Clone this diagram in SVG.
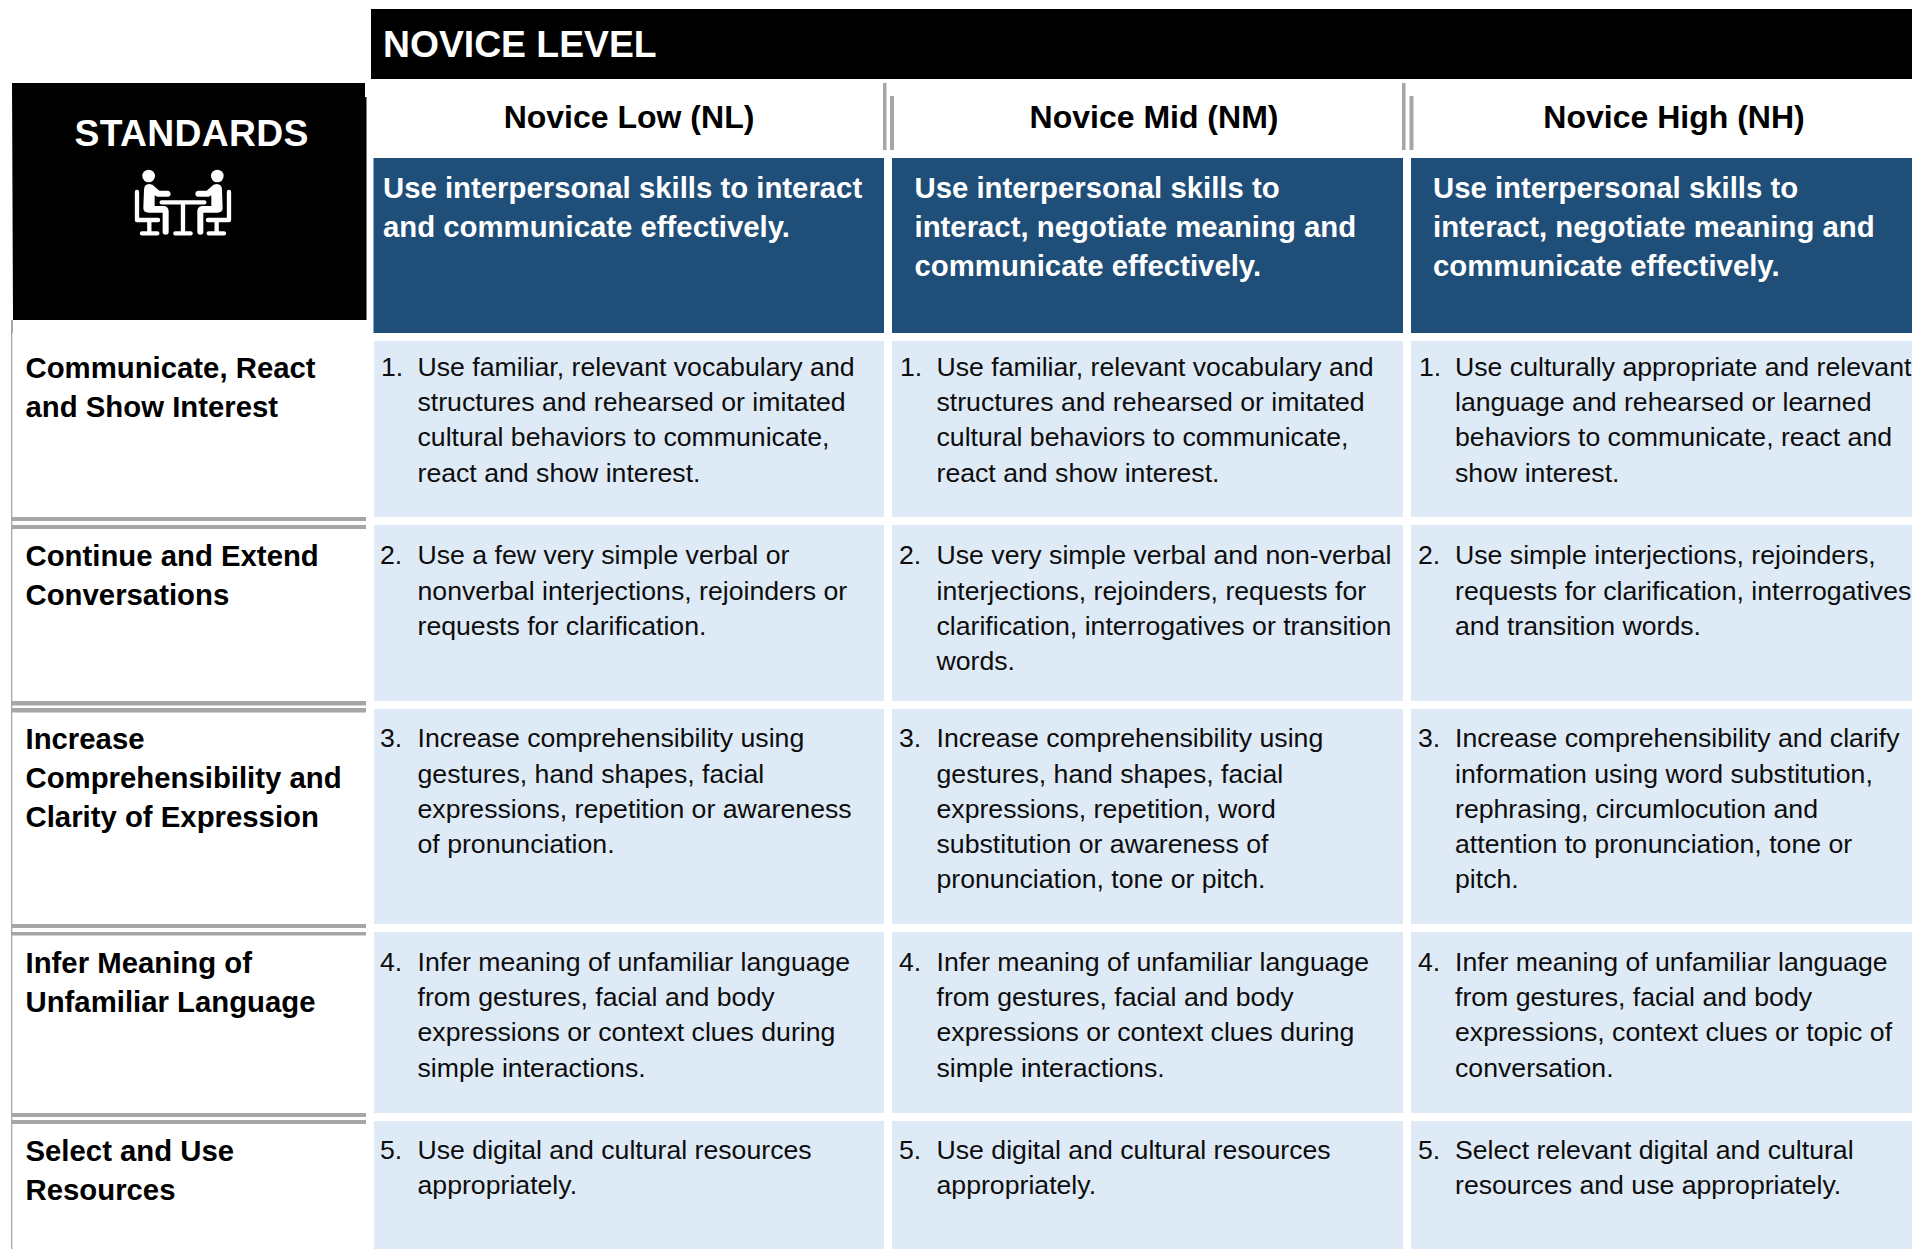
<svg xmlns="http://www.w3.org/2000/svg" xmlns:xlink="http://www.w3.org/1999/xlink" width="1912" height="1249" viewBox="0 0 1912 1249">
<style>
text{font-family:"Liberation Sans",Arial,sans-serif}
.blk{fill:#000}
.blue{fill:#1f4e79}
.cell{fill:#deeaf6}
.rule{fill:#a6a6a6}
.h1{font-size:37.300px;font-weight:700;fill:#fff}
.h2{font-size:32px;font-weight:700;fill:#000;text-anchor:middle}
.h3{font-size:29.330px;font-weight:700;fill:#fff}
.lab{font-size:29.330px;font-weight:700;fill:#000}
.b{font-size:26.660px;fill:#0d0d0d}
.ico{fill:#fff}
.icl{fill:none;stroke:#fff;stroke-width:13;stroke-linecap:round;stroke-linejoin:round}
</style>
<defs>
<g id="person">
<circle class="ico" cx="146" cy="108" r="19"/>
<path class="icl" d="M111 156V240H174M148 242V278M126 280H172"/>
<path class="ico" d="M132 150Q132 132 148 132Q158 132 166 142L178 152H204Q212 154 212 161Q212 169 204 170H172L164 166V198H192Q206 200 206 214V276Q206 284 197 284Q188 284 188 276V218H146Q130 218 130 204Z"/>
</g>
</defs>
<rect width="1912" height="1249" fill="#fff"/>
<g id="rules">
<rect class="rule" x="11" y="320" width="1.300" height="929"/>
<rect class="rule" x="11" y="320" width="2" height="13"/>
<rect class="rule" x="12" y="517" width="354" height="4"/>
<rect class="rule" x="12" y="525" width="354" height="4"/>
<rect class="rule" x="12" y="701" width="354" height="4.500"/>
<rect class="rule" x="12" y="708" width="354" height="4.500"/>
<rect class="rule" x="12" y="924" width="354" height="4"/>
<rect class="rule" x="12" y="932" width="354" height="3.500"/>
<rect class="rule" x="12" y="1113" width="354" height="4"/>
<rect class="rule" x="12" y="1120" width="354" height="4"/>
<rect class="rule" x="883" y="83" width="3.500" height="67"/>
<rect class="rule" x="890" y="96" width="4" height="54"/>
<rect class="rule" x="1402" y="83" width="3.500" height="67"/>
<rect class="rule" x="1409.500" y="96" width="4" height="54"/>
</g>
<g id="novice-level">
<rect class="blk" x="371" y="9" width="1541" height="70"/>
<text class="h1" x="383" y="57">NOVICE LEVEL</text>
</g>
<g id="standards">
<path class="blk" d="M12 83H365V97H366.500V320H13Z"/>
<text class="h1" x="74.500" y="146" letter-spacing=".3">STANDARDS</text>
<g id="icon" transform="translate(100 140) scale(.3333)">
<use xlink:href="#person" href="#person"/>
<use xlink:href="#person" href="#person" transform="translate(498 0) scale(-1 1)"/>
<path class="icl" d="M185 187H313M249 190V278M226 280H272"/>
</g>
</g>
<g id="col-nl">
<text class="h2" x="629" y="128">Novice Low (NL)</text>
<rect class="blue" x="373.500" y="158" width="510.500" height="175"/>
<text class="h3" x="383"><tspan x="383" y="197.500">Use interpersonal skills to interact</tspan><tspan x="383" y="237">and communicate effectively.</tspan></text>
</g>
<g id="col-nm">
<text class="h2" x="1154" y="128">Novice Mid (NM)</text>
<rect class="blue" x="892" y="158" width="511" height="175"/>
<text class="h3"><tspan x="914.500" y="197.500">Use interpersonal skills to</tspan><tspan x="914.500" y="237">interact, negotiate meaning and</tspan><tspan x="914.500" y="276">communicate effectively.</tspan></text>
</g>
<g id="col-nh">
<text class="h2" x="1674" y="128">Novice High (NH)</text>
<rect class="blue" x="1411" y="158" width="501" height="175"/>
<text class="h3"><tspan x="1433" y="197.500">Use interpersonal skills to</tspan><tspan x="1433" y="237">interact, negotiate meaning and</tspan><tspan x="1433" y="276">communicate effectively.</tspan></text>
</g>
<g id="label-1"><text class="lab"><tspan x="25.500" y="378">Communicate, React</tspan><tspan x="25.500" y="417">and Show Interest</tspan></text></g>
<g id="label-2"><text class="lab"><tspan x="25.500" y="566">Continue and Extend</tspan><tspan x="25.500" y="605">Conversations</tspan></text></g>
<g id="label-3"><text class="lab"><tspan x="25.500" y="749">Increase</tspan><tspan x="25.500" y="788">Comprehensibility and</tspan><tspan x="25.500" y="827">Clarity of Expression</tspan></text></g>
<g id="label-4"><text class="lab"><tspan x="25.500" y="973">Infer Meaning of</tspan><tspan x="25.500" y="1012">Unfamiliar Language</tspan></text></g>
<g id="label-5"><text class="lab"><tspan x="25.500" y="1161">Select and Use</tspan><tspan x="25.500" y="1200">Resources</tspan></text></g>
<g id="nl-1"><rect class="cell" x="374" y="341" width="510" height="176"/><text class="b"><tspan x="417.500" y="376">Use familiar, relevant vocabulary and</tspan><tspan x="417.500" y="411">structures and rehearsed or imitated</tspan><tspan x="417.500" y="446">cultural behaviors to communicate,</tspan><tspan x="417.500" y="481.500">react and show interest.</tspan></text><text class="b" x="381" y="376">1.</text></g>
<g id="nm-1"><rect class="cell" x="892" y="341" width="511" height="176"/><text class="b"><tspan x="936.500" y="376">Use familiar, relevant vocabulary and</tspan><tspan x="936.500" y="411">structures and rehearsed or imitated</tspan><tspan x="936.500" y="446">cultural behaviors to communicate,</tspan><tspan x="936.500" y="481.500">react and show interest.</tspan></text><text class="b" x="900" y="376">1.</text></g>
<g id="nh-1"><rect class="cell" x="1411" y="341" width="501" height="176"/><text class="b"><tspan x="1455" y="376">Use culturally appropriate and relevant</tspan><tspan x="1455" y="411">language and rehearsed or learned</tspan><tspan x="1455" y="446">behaviors to communicate, react and</tspan><tspan x="1455" y="481.500">show interest.</tspan></text><text class="b" x="1419" y="376">1.</text></g>
<g id="nl-2"><rect class="cell" x="374" y="525" width="510" height="176"/><text class="b"><tspan x="417.500" y="564">Use a few very simple verbal or</tspan><tspan x="417.500" y="599.500">nonverbal interjections, rejoinders or</tspan><tspan x="417.500" y="635">requests for clarification.</tspan></text><text class="b" x="380" y="564">2.</text></g>
<g id="nm-2"><rect class="cell" x="892" y="525" width="511" height="176"/><text class="b"><tspan x="936.500" y="564">Use very simple verbal and non-verbal</tspan><tspan x="936.500" y="599.500">interjections, rejoinders, requests for</tspan><tspan x="936.500" y="635">clarification, interrogatives or transition</tspan><tspan x="936.500" y="670">words.</tspan></text><text class="b" x="899" y="564">2.</text></g>
<g id="nh-2"><rect class="cell" x="1411" y="525" width="501" height="176"/><text class="b"><tspan x="1455" y="564">Use simple interjections, rejoinders,</tspan><tspan x="1455" y="599.500">requests for clarification, interrogatives</tspan><tspan x="1455" y="635">and transition words.</tspan></text><text class="b" x="1418" y="564">2.</text></g>
<g id="nl-3"><rect class="cell" x="374" y="709" width="510" height="215"/><text class="b"><tspan x="417.500" y="747">Increase comprehensibility using</tspan><tspan x="417.500" y="782.500">gestures, hand shapes, facial</tspan><tspan x="417.500" y="818">expressions, repetition or awareness</tspan><tspan x="417.500" y="853">of pronunciation.</tspan></text><text class="b" x="380" y="747">3.</text></g>
<g id="nm-3"><rect class="cell" x="892" y="709" width="511" height="215"/><text class="b"><tspan x="936.500" y="747">Increase comprehensibility using</tspan><tspan x="936.500" y="782.500">gestures, hand shapes, facial</tspan><tspan x="936.500" y="818">expressions, repetition, word</tspan><tspan x="936.500" y="853">substitution or awareness of</tspan><tspan x="936.500" y="888">pronunciation, tone or pitch.</tspan></text><text class="b" x="899" y="747">3.</text></g>
<g id="nh-3"><rect class="cell" x="1411" y="709" width="501" height="215"/><text class="b"><tspan x="1455" y="747">Increase comprehensibility and clarify</tspan><tspan x="1455" y="782.500">information using word substitution,</tspan><tspan x="1455" y="818">rephrasing, circumlocution and</tspan><tspan x="1455" y="853">attention to pronunciation, tone or</tspan><tspan x="1455" y="888">pitch.</tspan></text><text class="b" x="1418" y="747">3.</text></g>
<g id="nl-4"><rect class="cell" x="374" y="932" width="510" height="181"/><text class="b"><tspan x="417.500" y="971">Infer meaning of unfamiliar language</tspan><tspan x="417.500" y="1006">from gestures, facial and body</tspan><tspan x="417.500" y="1041">expressions or context clues during</tspan><tspan x="417.500" y="1077">simple interactions.</tspan></text><text class="b" x="380" y="971">4.</text></g>
<g id="nm-4"><rect class="cell" x="892" y="932" width="511" height="181"/><text class="b"><tspan x="936.500" y="971">Infer meaning of unfamiliar language</tspan><tspan x="936.500" y="1006">from gestures, facial and body</tspan><tspan x="936.500" y="1041">expressions or context clues during</tspan><tspan x="936.500" y="1077">simple interactions.</tspan></text><text class="b" x="899" y="971">4.</text></g>
<g id="nh-4"><rect class="cell" x="1411" y="932" width="501" height="181"/><text class="b"><tspan x="1455" y="971">Infer meaning of unfamiliar language</tspan><tspan x="1455" y="1006">from gestures, facial and body</tspan><tspan x="1455" y="1041">expressions, context clues or topic of</tspan><tspan x="1455" y="1077">conversation.</tspan></text><text class="b" x="1418" y="971">4.</text></g>
<g id="nl-5"><rect class="cell" x="374" y="1121" width="510" height="128"/><text class="b"><tspan x="417.500" y="1159">Use digital and cultural resources</tspan><tspan x="417.500" y="1194">appropriately.</tspan></text><text class="b" x="380" y="1159">5.</text></g>
<g id="nm-5"><rect class="cell" x="892" y="1121" width="511" height="128"/><text class="b"><tspan x="936.500" y="1159">Use digital and cultural resources</tspan><tspan x="936.500" y="1194">appropriately.</tspan></text><text class="b" x="899" y="1159">5.</text></g>
<g id="nh-5"><rect class="cell" x="1411" y="1121" width="501" height="128"/><text class="b"><tspan x="1455" y="1159">Select relevant digital and cultural</tspan><tspan x="1455" y="1194">resources and use appropriately.</tspan></text><text class="b" x="1418" y="1159">5.</text></g>
</svg>
